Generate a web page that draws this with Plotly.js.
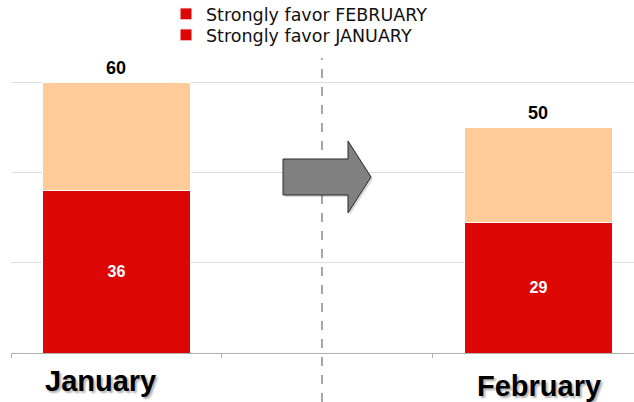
<!DOCTYPE html>
<html>
<head>
<meta charset="utf-8">
<script src="https://cdn.plot.ly/plotly-3.0.1.min.js"></script>
<style>html,body{margin:0;padding:0;background:#fff;}#chart{width:634px;height:402px;}</style>
</head>
<body>
<div id="chart"></div>
<script>
// ---- data ----
var categories = ["January", "→", "February"];
var strongJanuary = [36, null, null];
var strongFebruary = [null, null, 29];
var otherValues = [24, null, 21];
var totals = [60, null, 50];
var legendNames = ["Strongly favor FEBRUARY", "Strongly favor JANUARY"];

var RED = "#DD0806", PEACH = "#FFCC99";
var FONT = "Liberation Sans, Arial, sans-serif";

// layout geometry
var W = 634, H = 402, mL = 11, mR = 0, mT = 37, mB = 49;
var pw = W - mL - mR, ph = H - mT - mB;
function px(x) { return (x - mL) / pw; }
function py(y) { return (H - mB - y) / ph; }
function labels(arr) { return arr.map(function(v){ return v == null ? "" : String(v); }); }

var traces = [
  {type: "bar", x: categories, y: strongFebruary, name: legendNames[0], legend: "legend",
   marker: {color: RED, line: {color: "#ffffff", width: 1}},
   text: labels(strongFebruary), textposition: "inside", insidetextanchor: "middle",
   textfont: {family: FONT, size: 16, color: "#ffffff", weight: "bold"}, hoverinfo: "skip"},
  {type: "bar", x: categories, y: strongJanuary, name: legendNames[1], legend: "legend2",
   marker: {color: RED, line: {color: "#ffffff", width: 1}},
   text: labels(strongJanuary), textposition: "inside", insidetextanchor: "middle",
   textfont: {family: FONT, size: 16, color: "#ffffff", weight: "bold"}, hoverinfo: "skip"},
  {type: "bar", x: categories, y: otherValues, name: "Other", showlegend: false,
   marker: {color: PEACH, line: {color: "#ffffff", width: 1}}, hoverinfo: "skip"}
];

var arrowPts = [[283,159],[348,159],[348,141],[371,177],[348,213],[348,195],[283,195]];
function pathOf(pts, dx, dy) {
  return pts.map(function(p, i){ return (i ? "L" : "M") + px(p[0]+dx) + "," + py(p[1]+dy); }).join(" ") + " Z";
}

var annotations = [
  {xref: "x", yref: "paper", x: categories[0], y: 0, xshift: -16, yshift: -28,
   xanchor: "center", yanchor: "middle", showarrow: false, text: categories[0],
   font: {family: FONT, size: 29, color: "#000", weight: "bold", shadow: "2px 2px 2px rgba(0,0,0,0.3)"}},
  {xref: "x", yref: "paper", x: categories[2], y: 0, xshift: 1, yshift: -33,
   xanchor: "center", yanchor: "middle", showarrow: false, text: categories[2],
   font: {family: FONT, size: 29, color: "#000", weight: "bold", shadow: "2px 2px 2px rgba(0,0,0,0.3)"}}
];
totals.forEach(function(t, i) {
  if (t == null) return;
  annotations.push({xref: "x", yref: "y", x: categories[i], y: t, yshift: 2,
    xanchor: "center", yanchor: "bottom", showarrow: false, text: String(t),
    font: {family: FONT, size: 18, color: "#000", weight: "bold"}});
});

var legendFont = {family: "DejaVu Sans, sans-serif", size: 17.5, color: "#111111"};
var layout = {
  width: W, height: H,
  margin: {l: mL, r: mR, t: mT, b: mB, pad: 0, autoexpand: false},
  paper_bgcolor: "#ffffff", plot_bgcolor: "#ffffff",
  barmode: "stack", bargap: 0.3,
  font: {family: FONT, color: "#000"},
  xaxis: {type: "category", range: [-0.5, 2.453], showticklabels: false,
          showline: true, linecolor: "#B0B0B0", linewidth: 1,
          ticks: "outside", ticklen: 4, tickcolor: "#B0B0B0", tickson: "boundaries",
          showgrid: false, zeroline: false, fixedrange: true, automargin: false},
  yaxis: {range: [0, 70], dtick: 20, showticklabels: false, showgrid: true,
          gridcolor: "#DEDEDE", gridwidth: 1, zeroline: false, showline: false, fixedrange: true, automargin: false},
  legend: {x: px(166), y: py(14), xanchor: "left", yanchor: "middle",
           bgcolor: "rgba(0,0,0,0)", font: legendFont},
  legend2: {x: px(166), y: py(35), xanchor: "left", yanchor: "middle",
           bgcolor: "rgba(0,0,0,0)", font: legendFont},
  shapes: [
    {type: "line", xref: "paper", yref: "paper", x0: px(322), x1: px(322), y0: py(402), y1: py(58),
     line: {color: "#A6A6A6", width: 2, dash: "dash"}, layer: "below"},
    {type: "path", xref: "paper", yref: "paper", path: pathOf(arrowPts, 2, 2),
     fillcolor: "rgba(0,0,0,0.15)", line: {width: 0}},
    {type: "path", xref: "paper", yref: "paper", path: pathOf(arrowPts, 0, 0),
     fillcolor: "#808080", line: {color: "#2a2a2a", width: 1}}
  ],
  annotations: annotations
};

Plotly.newPlot("chart", traces, layout, {displayModeBar: false, staticPlot: true});
</script>
</body>
</html>
